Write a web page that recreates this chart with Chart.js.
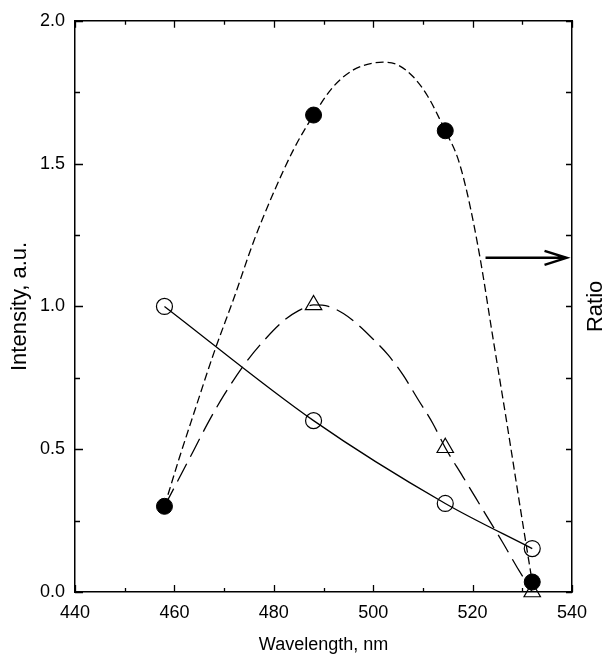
<!DOCTYPE html>
<html>
<head>
<meta charset="utf-8">
<script src="https://cdn.jsdelivr.net/npm/chart.js@4.4.1/dist/chart.umd.min.js"></script>
<style>
  html, body { margin: 0; padding: 0; background: #fff; }
  #contenedor { width: 612px; height: 664px; }
</style>
</head>
<body>
<div id="contenedor"><canvas id="grafica"></canvas></div>
<script>
// measured points (wavelength in nm)
const wavelength = [458, 488, 514.5, 532];
const filledVals = [0.3, 1.67, 1.615, 0.035];
const openVals = [1.0, 0.6, 0.31, 0.152];
const triWavelength = [488, 514.5, 532];
const triVals = [1.005, 0.505, 0.0];

// fitted curves
const fitFilledX = [458, 461, 464, 468, 472, 476, 480, 484, 488, 492, 496, 500, 502, 505, 508, 511, 514.5, 517, 519, 521.5, 524, 527, 530, 532];
const fitFilledY = [0.3, 0.47, 0.63, 0.84, 1.03, 1.23, 1.4, 1.55, 1.67, 1.77, 1.828, 1.852, 1.855, 1.845, 1.805, 1.735, 1.615, 1.52, 1.39, 1.17, 0.9, 0.58, 0.25, 0.035];
const fitTriX = [458, 461, 464, 467, 470, 474, 478, 482, 485, 488, 491, 494, 497, 500, 503, 506, 509, 512, 514.5, 518, 522, 526, 529, 532];
const fitTriY = [0.3, 0.4, 0.5, 0.6, 0.69, 0.795, 0.88, 0.95, 0.985, 1.005, 1.0, 0.975, 0.935, 0.885, 0.83, 0.76, 0.675, 0.59, 0.505, 0.405, 0.29, 0.175, 0.085, 0.0];

// axis ticks
const xTicks = [440, 460, 480, 500, 520, 540];
const yTicks = [0, 0.5, 1.0, 1.5, 2.0];

const fuente = "'Liberation Sans', Arial, Helvetica, sans-serif";

function puntos(xs, ys) {
  return xs.map((x, i) => ({ x: x, y: ys[i] }));
}

// inward tick marks, arrow and right-hand label
const ejesPlugin = {
  id: "ejes",
  afterDraw(chart) {
    const { ctx, chartArea: a, scales } = chart;
    ctx.save();
    ctx.strokeStyle = "#000";
    ctx.lineWidth = 1.3;
    ctx.beginPath();
    for (let v = xTicks[0]; v <= xTicks[xTicks.length - 1]; v += 10) {
      const px = Math.round(scales.x.getPixelForValue(v)) + 0.5;
      const len = xTicks.includes(v) ? 7 : 4;
      ctx.moveTo(px, a.bottom);
      ctx.lineTo(px, a.bottom - len);
      ctx.moveTo(px, a.top);
      ctx.lineTo(px, a.top + len);
    }
    for (let v = 0; v <= 2.0001; v += 0.25) {
      const py = Math.round(scales.y.getPixelForValue(v)) + 0.5;
      const len = Math.abs(v * 2 - Math.round(v * 2)) < 0.001 ? 8 : 5;
      ctx.moveTo(a.left, py);
      ctx.lineTo(a.left + len, py);
    }
    for (let v = 0; v <= 8; v++) {
      const py = Math.round(scales.y2.getPixelForValue(v)) + 0.5;
      ctx.moveTo(a.right, py);
      ctx.lineTo(a.right - 6, py);
    }
    ctx.stroke();

    // arrow pointing at the Ratio axis
    const ay = scales.y.getPixelForValue(1.17);
    const ax1 = scales.x.getPixelForValue(522.6);
    const ax2 = scales.x.getPixelForValue(538.9);
    ctx.lineWidth = 2.5;
    ctx.beginPath();
    ctx.moveTo(ax1, ay);
    ctx.lineTo(ax2, ay);
    ctx.moveTo(ax2 - 22, ay - 7);
    ctx.lineTo(ax2, ay);
    ctx.lineTo(ax2 - 22, ay + 7);
    ctx.stroke();

    // Ratio title (reads bottom to top)
    ctx.translate(596, (a.top + a.bottom) / 2);
    ctx.rotate(-Math.PI / 2);
    ctx.fillStyle = "#000";
    ctx.font = "22px " + fuente;
    ctx.textAlign = "center";
    ctx.textBaseline = "middle";
    ctx.fillText("Ratio", 0, 0);
    ctx.restore();
  },
};

document.addEventListener("DOMContentLoaded", () => {
  graficaIntensidad();
});

function graficaIntensidad() {
  const ctx = document.getElementById("grafica");
  new Chart(ctx, {
    type: "scatter",
    data: {
      datasets: [
        {
          // filled circles
          data: puntos(wavelength, filledVals),
          pointStyle: "circle",
          pointRadius: 8,
          backgroundColor: "#000",
          borderColor: "#000",
          borderWidth: 1,
          showLine: false,
          clip: false,
        },
        {
          // open circles
          data: puntos(wavelength, openVals),
          pointStyle: "circle",
          pointRadius: 8,
          backgroundColor: "rgba(0,0,0,0)",
          borderColor: "#000",
          borderWidth: 1.2,
          showLine: false,
          clip: false,
        },
        {
          // open triangles
          data: puntos(triWavelength, triVals),
          pointStyle: "triangle",
          pointRadius: 9.5,
          backgroundColor: "rgba(0,0,0,0)",
          borderColor: "#000",
          borderWidth: 1.2,
          showLine: false,
          clip: false,
        },
        {
          // solid fit through open circles
          data: puntos(wavelength, openVals),
          showLine: true,
          pointRadius: 0,
          borderColor: "#000",
          borderWidth: 1.3,
          cubicInterpolationMode: "monotone",
        },
        {
          // short dashed fit through filled circles
          data: puntos(fitFilledX, fitFilledY),
          showLine: true,
          pointRadius: 0,
          borderColor: "#000",
          borderWidth: 1.3,
          borderDash: [8, 4],
          cubicInterpolationMode: "monotone",
        },
        {
          // long dashed fit through triangles
          data: puntos(fitTriX, fitTriY),
          showLine: true,
          pointRadius: 0,
          borderColor: "#000",
          borderWidth: 1.3,
          borderDash: [20, 8],
          cubicInterpolationMode: "monotone",
        },
      ],
    },
    options: {
      responsive: true,
      maintainAspectRatio: false,
      animation: false,
      layout: { padding: 0 },
      plugins: {
        legend: { display: false },
        tooltip: { enabled: false },
      },
      scales: {
        x: {
          type: "linear",
          position: "bottom",
          min: 440,
          max: 540,
          afterBuildTicks: (s) => { s.ticks = xTicks.map((v) => ({ value: v })); },
          afterFit: (s) => { s.height = 72; },
          grid: { display: false, drawTicks: false },
          border: { display: true, color: "#000", width: 1.5 },
          ticks: { color: "#000", padding: 10, font: { family: fuente, size: 18 }, maxRotation: 0 },
          title: { display: true, text: "Wavelength, nm", color: "#000", font: { family: fuente, size: 18 }, padding: { top: 0, bottom: 8 } },
        },
        x2: {
          type: "linear",
          position: "top",
          min: 440,
          max: 540,
          afterFit: (s) => { s.height = 15; },
          grid: { display: false, drawTicks: false },
          border: { display: true, color: "#000", width: 1.5 },
          ticks: { display: false },
        },
        y: {
          type: "linear",
          position: "left",
          min: 0,
          max: 2.0,
          afterBuildTicks: (s) => { s.ticks = yTicks.map((v) => ({ value: v })); },
          afterFit: (s) => { s.width = 75; },
          grid: { display: false, drawTicks: false },
          border: { display: true, color: "#000", width: 1.5 },
          ticks: {
            color: "#000",
            padding: 10,
            font: { family: fuente, size: 18 },
            callback: (v) => Number(v).toFixed(1),
          },
          title: { display: true, text: "Intensity, a.u.", color: "#000", font: { family: fuente, size: 22 }, padding: { top: 7, bottom: 0 } },
        },
        y2: {
          type: "linear",
          position: "right",
          min: 0,
          max: 8,
          afterFit: (s) => { s.width = 40; },
          grid: { display: false, drawTicks: false },
          border: { display: true, color: "#000", width: 1.5 },
          ticks: { display: false, stepSize: 1 },
        },
      },
    },
    plugins: [ejesPlugin],
  });
}
</script>
</body>
</html>
